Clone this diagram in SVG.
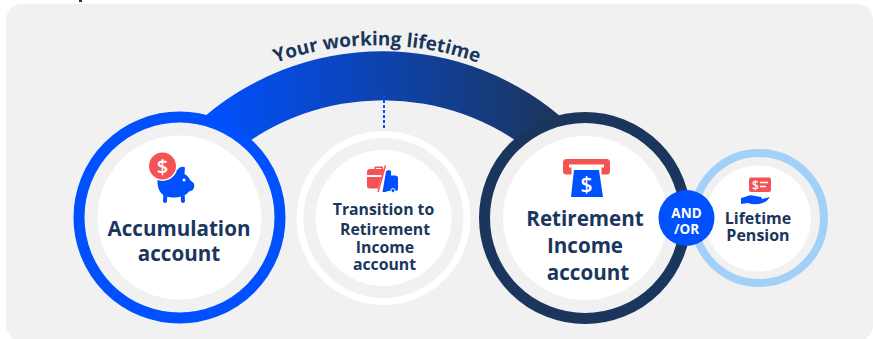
<svg xmlns="http://www.w3.org/2000/svg" width="873" height="339" viewBox="0 0 873 339">
<style>
.t{font-family:"Open Sans","Noto Sans",sans-serif;font-weight:700;fill:#1b365d;text-anchor:middle}
.w{fill:#fff;font-weight:600}
.big{font-size:20.600px}.mid{font-size:15.800px}.small{font-size:16px}
.gray{fill:#f1f1f1}.white{fill:#fff}.red{fill:#f55353}.blue{fill:#0050ff}
</style>
<defs>
<linearGradient id="g" gradientUnits="userSpaceOnUse" x1="209" y1="0" x2="555" y2="0"><stop offset="0" stop-color="#0050ff"/><stop offset="1" stop-color="#1b365d"/></linearGradient>
<path id="tp" d="M165 133A300 300 0 0 1 589 133"/>
</defs>
<rect width="873" height="339" fill="#fff"/>
<rect x="6" y="4" width="867" height="337" rx="16" class="gray"/>
<rect x="79" y="0" width="3" height="2" fill="#1b365d"/>
<g id="connectors">
<path d="M195 125A275 275 0 0 1 570 125L535 155A238 238 0 0 0 231 155Z" fill="url(#g)"/>
<path d="M384 95V130" fill="none" stroke="#0050ff" stroke-width="2" stroke-dasharray="3 2"/>
</g>
<text class="t" style="font-size:19px"><textPath href="#tp" startOffset="50%">Your working lifetime</textPath></text>
<g id="accumulation">
<circle cx="179.500" cy="217.500" r="100.500" class="gray" stroke="#0050ff" stroke-width="11"/>
<circle cx="179.500" cy="217.500" r="82" class="white"/>
<path class="blue" d="M157.500 180C157 191 162 197 172 197.500C180 197.500 186 195.500 189 191.500L192 190.500Q195 188.500 194 183.500Q192 181.500 190 180Q188 175.500 184.500 174L185 167.500Q181 165 177 170L160 172Z"/>
<path d="M165.500 192L165 201M182.500 192L183 201" stroke="#0050ff" stroke-width="4" stroke-linecap="round" fill="none"/>
<circle cx="184" cy="180" r="1.500" class="white"/>
<circle cx="162.500" cy="166" r="15" class="white"/>
<circle cx="162.500" cy="166" r="13.500" class="red"/>
<text class="t w" x="162.500" y="173.500" style="font-size:20px">$</text>
<text class="t big" x="179" y="236">Accumulation</text>
<text class="t big" x="179" y="260.500">account</text>
</g>
<g id="transition">
<circle cx="383.500" cy="218" r="83.500" class="gray" stroke="#fff" stroke-width="7"/>
<circle cx="383.500" cy="218" r="68" class="white"/>
<path class="red" d="M367 172Q367 169 370 169H374.500V166.500H383V169H384L378 188.500H370Q367 188.500 367 186Z"/>
<path class="white" d="M367 175H381.500L381 177H367ZM376 168V169H381.500V168Z"/>
<path class="blue" d="M386 171.500Q387 170 389 170L391 171V175.500H395Q398 175.500 398 178V189Q398 191 396 191H395.500A2.500 2.500 0 0 0 390.500 191H388.500L385 192H382.500Z"/>
<circle cx="393" cy="190.500" r="2" class="blue" stroke="#fff" stroke-width=".8"/>
<path d="M385.500 165.500L378 192" stroke="#f55353" stroke-width="1.500"/>
<text class="t mid" x="383.500" y="215">Transition to</text>
<text class="t mid" x="385" y="235">Retirement</text>
<text class="t mid" x="385" y="253">Income</text>
<text class="t mid" x="384.500" y="270">account</text>
</g>
<g id="retirement">
<circle cx="585" cy="218" r="100.500" class="gray" stroke="#1b365d" stroke-width="11"/>
<circle cx="585" cy="218" r="82" class="white"/>
<rect x="563" y="159" width="47" height="15.500" rx="3.500" class="red"/>
<path class="white" d="M569 164.500H604V167.500H601.500V175H571.500V167.500H569Z"/>
<path class="blue" d="M574 170H599L603 197H571Z"/>
<text class="t w" x="586.500" y="191.500" style="font-size:21px">$</text>
<text class="t big" x="585" y="226">Retirement</text>
<text class="t big" x="585" y="252.500">Income</text>
<text class="t big" x="588" y="279.500">account</text>
</g>
<g id="pension">
<circle cx="759" cy="218" r="65" class="gray" stroke="#a3d0f8" stroke-width="8"/>
<circle cx="758" cy="218.500" r="53" class="white"/>
<rect x="749" y="177.500" width="22" height="14.500" rx="2" class="red"/>
<text class="t w" x="755.500" y="189.500" style="font-size:12px">$</text>
<path d="M760 182.500H768M760 186.500H766" stroke="#fff" stroke-width="1.500"/>
<path class="blue" d="M741 198L745 197Q750 194 755 196L761 197Q763 199 760 200L756 200.500L770 197Q768 200 765 202Q755 206 748 203L741 204Z"/>
<text class="t small" x="758" y="224">Lifetime</text>
<text class="t small" x="758" y="241">Pension</text>
</g>
<g id="and-or">
<circle cx="686.500" cy="218" r="28" class="blue"/>
<text class="t" x="686.500" y="217.500" style="fill:#fff;font-size:13.500px">AND</text>
<text class="t" x="686.500" y="234" style="fill:#fff;font-size:13.500px">/OR</text>
</g>
</svg>
